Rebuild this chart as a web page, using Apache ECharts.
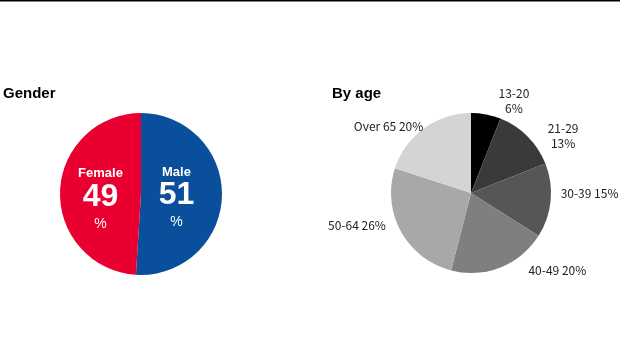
<!DOCTYPE html>
<html><head><meta charset="utf-8">
<script src="https://cdn.jsdelivr.net/npm/echarts@6/dist/echarts.min.js"></script>
<style>html,body{margin:0;padding:0;background:#fff}#c{width:620px;height:360px}</style>
</head><body><div id="c"></div>
<script>
var genderCategories = ['Male', 'Female'];
var genderValues = [51, 49];
var genderColors = ['#0a4f9b', '#ea0030'];

var ageCategories = ['13-20', '21-29', '30-39', '40-49', '50-64', 'Over 65'];
var ageValues = [6, 13, 15, 20, 26, 20];
var ageColors = ['#000000', '#3a3a3a', '#565656', '#7f7f7f', '#a8a8a8', '#d4d4d4'];
var ageMultiline = ['13-20', '21-29'];

// label nudges (style only)
var genderNudge = [[-8, 6], [3, 10]];
var ageNudge = [[6, -6], [7, -3], [2, -8], [20, -4], [-3, -10], [9, 5]];

function centerLayout(nudges) {
  return function (p) {
    var r = p.labelRect, n = nudges[p.dataIndex] || [0, 0];
    return {x: r.x + r.width / 2 + n[0], y: r.y + r.height / 2 + n[1], align: 'center', verticalAlign: 'middle'};
  };
}

var chart = echarts.init(document.getElementById('c'), null, {renderer: 'canvas'});
chart.setOption({
  animation: false,
  graphic: [{type: 'line', shape: {x1: 0, y1: 0.5, x2: 620, y2: 0.5}, style: {stroke: '#000', lineWidth: 2}}],
  title: [
    {text: 'Gender', left: 3, top: 86, padding: 0, textStyle: {fontFamily: 'Liberation Sans', fontWeight: 'bold', fontSize: 15, color: '#000'}},
    {text: 'By age', left: 332, top: 86, padding: 0, textStyle: {fontFamily: 'Liberation Sans', fontWeight: 'bold', fontSize: 15, color: '#000'}}
  ],
  series: [
    {
      type: 'pie', center: [141, 194], radius: 81, startAngle: 90, clockwise: true,
      data: genderCategories.map(function (c, i) { return {name: c, value: genderValues[i], itemStyle: {color: genderColors[i]}}; }),
      label: {
        position: 'inner',
        formatter: function (p) { return '{a|' + p.name + '}\n{b|' + p.value + '}\n{c|%}'; },
        rich: {
          a: {fontFamily: 'Liberation Sans', fontWeight: 'bold', fontSize: 13, color: '#fff', lineHeight: 16, align: 'center'},
          b: {fontFamily: 'Liberation Sans', fontWeight: 'bold', fontSize: 32, color: '#fff', lineHeight: 30, align: 'center'},
          c: {fontFamily: 'Liberation Sans', fontSize: 14, color: '#fff', lineHeight: 24, align: 'center'}
        }
      },
      labelLine: {show: false},
      labelLayout: centerLayout(genderNudge)
    },
    {
      type: 'pie', center: [471, 193], radius: 80, startAngle: 90, clockwise: true,
      data: ageCategories.map(function (c, i) { return {name: c, value: ageValues[i], itemStyle: {color: ageColors[i]}}; }),
      label: {
        position: 'outside', overflow: 'none',
        fontFamily: 'Noto Sans CJK JP', fontSize: 12, color: '#222', lineHeight: 15,
        formatter: function (p) { return ageMultiline.indexOf(p.name) >= 0 ? p.name + '\n' + p.value + '%' : p.name + ' ' + p.value + '%'; }
      },
      labelLine: {show: false, length: 8, length2: 0},
      labelLayout: centerLayout(ageNudge)
    }
  ]
});
</script></body></html>
